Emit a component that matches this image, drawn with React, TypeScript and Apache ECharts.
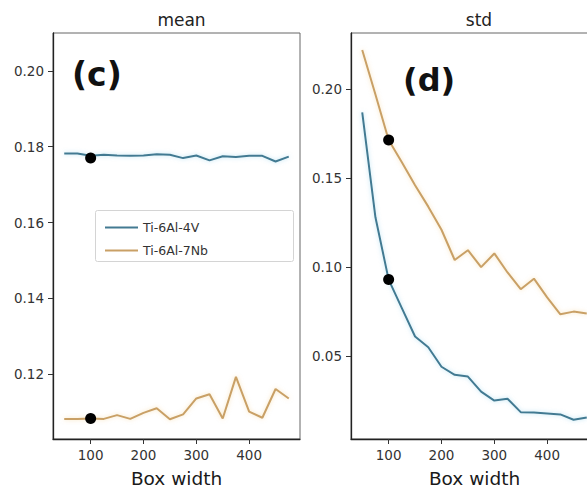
import React, { useEffect, useRef } from "react";
import * as echarts from "echarts";

const boxWidth = [50, 75, 100, 125, 150, 175, 200, 225, 250, 275, 300, 325, 350, 375, 400, 425, 450, 475];
const mean64 = [0.1782, 0.1782, 0.1776, 0.1779, 0.1777, 0.1776, 0.1777, 0.178, 0.1779, 0.177, 0.1777, 0.1764, 0.1775, 0.1773, 0.1776, 0.1776, 0.1761, 0.1774];
const mean7Nb = [0.1082, 0.1082, 0.1083, 0.1082, 0.1092, 0.1082, 0.1098, 0.111, 0.1081, 0.1094, 0.1136, 0.1147, 0.1083, 0.1193, 0.1101, 0.1085, 0.1161, 0.1136];
const std64 = [0.187, 0.128, 0.093, 0.077, 0.061, 0.055, 0.044, 0.0395, 0.0385, 0.03, 0.025, 0.026, 0.0185, 0.0183, 0.0178, 0.0172, 0.0142, 0.0155];
const std7Nb = [0.222, 0.197, 0.1715, 0.159, 0.146, 0.134, 0.121, 0.104, 0.1095, 0.1, 0.1077, 0.097, 0.0876, 0.0935, 0.083, 0.0735, 0.075, 0.074];
const markedWidth = 100;
const meanMarked = [0.177, 0.1083];
const stdMarked = [0.1715, 0.093];
const xTicks = [100, 200, 300, 400];
const meanTicks = [0.12, 0.14, 0.16, 0.18, 0.2];
const stdTicks = [0.05, 0.1, 0.15, 0.2];
const seriesNames = ["Ti-6Al-4V", "Ti-6Al-7Nb"];
const panelTitles = ["mean", "std"];
const panelTags = ["(c)", "(d)"];

const BLUE = "#437a92";
const ORANGE = "#c9a066";
const FONT = "DejaVu Sans";

export default function App() {
  const ref = useRef<HTMLDivElement>(null);
  useEffect(() => {
    const chart = echarts.init(ref.current!, undefined, { renderer: "svg" });
    const pairs = (ys: number[]) => boxWidth.map((x, i) => [x, ys[i]]);
    const xAxis = (gridIndex: number) => ({
      type: "value",
      gridIndex,
      min: 28.75,
      max: 496.25,
      name: "Box width",
      nameLocation: "middle",
      nameGap: 30,
      nameTextStyle: { fontFamily: FONT, fontSize: 18.5, color: "#1a1a1a" },
      splitLine: { show: false },
      axisLine: { show: true, onZero: false, lineStyle: { color: "#222", width: 1.3 } },
      axisTick: { show: true, length: 5, customValues: xTicks, lineStyle: { color: "#333" } },
      axisLabel: { customValues: xTicks, margin: 9, fontFamily: FONT, fontSize: 13.5, color: "#333" },
    });
    const yAxis = (gridIndex: number, min: number, max: number, ticks: number[]) => ({
      type: "value",
      gridIndex,
      min,
      max,
      splitLine: { show: false },
      axisLine: { show: true, onZero: false, lineStyle: { color: "#222", width: 1.3 } },
      axisTick: { show: true, length: 5, customValues: ticks, lineStyle: { color: "#333" } },
      axisLabel: {
        customValues: ticks,
        margin: 9,
        fontFamily: FONT,
        fontSize: 13.5,
        color: "#333",
        formatter: (v: number) => v.toFixed(2),
      },
    });
    const line = (name: string, color: string, ys: number[], idx: number) => ({
      type: "line",
      name,
      xAxisIndex: idx,
      yAxisIndex: idx,
      data: pairs(ys),
      showSymbol: false,
      symbol: "none",
      lineStyle: { color, width: 2, shadowColor: color === BLUE ? "rgba(120,200,230,0.5)" : "rgba(240,200,120,0.5)", shadowBlur: 4 },
      itemStyle: { color },
      z: 3,
    });
    const dots = (ys: number[], idx: number) => ({
      type: "scatter",
      name: "marked",
      xAxisIndex: idx,
      yAxisIndex: idx,
      data: ys.map((y) => [markedWidth, y]),
      symbolSize: 11,
      itemStyle: { color: "#000", opacity: 1 },
      z: 5,
    });
    chart.setOption({
      animation: false,
      backgroundColor: "#fff",
      title: [
        { text: panelTitles[0], left: 176.5, top: 6, textAlign: "center", textStyle: { fontFamily: FONT, fontSize: 17, fontWeight: "normal", color: "#222" } },
        { text: panelTitles[1], left: 474, top: 6, textAlign: "center", textStyle: { fontFamily: FONT, fontSize: 17, fontWeight: "normal", color: "#222" } },
      ],
      grid: [
        { left: 53, top: 33, width: 247, height: 406, outerBoundsMode: "none", containLabel: false, show: true, borderColor: "#666", borderWidth: 1, backgroundColor: "transparent" },
        { left: 351, top: 33, width: 247, height: 406, outerBoundsMode: "none", containLabel: false, show: true, borderColor: "#666", borderWidth: 1, backgroundColor: "transparent" },
      ],
      xAxis: [xAxis(0), xAxis(1)],
      yAxis: [yAxis(0, 0.1029, 0.21, meanTicks), yAxis(1, 0.0034, 0.2316, stdTicks)],
      legend: {
        data: seriesNames,
        orient: "vertical",
        left: 100,
        top: 215.5,
        itemWidth: 33,
        itemHeight: 2,
        itemGap: 9,
        itemTextGap: 10,
        icon: "rect",
        selectedMode: false,
        textStyle: { fontFamily: FONT, fontSize: 12.5, color: "#333", lineHeight: 14 },
        z: 10,
      },
      graphic: [
        { type: "rect", left: 95, top: 210, shape: { width: 198, height: 51, r: 2 }, style: { fill: "rgba(255,255,255,0.9)", stroke: "#d4d4d4", lineWidth: 1 }, z: 9 },
        { type: "text", left: 72, top: 58, style: { text: panelTags[0], font: `bold 33px "${FONT}"`, fill: "#111" }, z: 10 },
        { type: "text", left: 403, top: 64, style: { text: panelTags[1], font: `bold 32px "${FONT}"`, fill: "#111" }, z: 10 },
      ],
      series: [
        line(seriesNames[0], BLUE, mean64, 0),
        line(seriesNames[1], ORANGE, mean7Nb, 0),
        line(seriesNames[0], BLUE, std64, 1),
        line(seriesNames[1], ORANGE, std7Nb, 1),
        dots(meanMarked, 0),
        dots(stdMarked, 1),
      ],
    });
    return () => chart.dispose();
  }, []);
  return <div ref={ref} style={{ position: "fixed", left: 0, top: 0, width: 587, height: 489 }} />;
}
